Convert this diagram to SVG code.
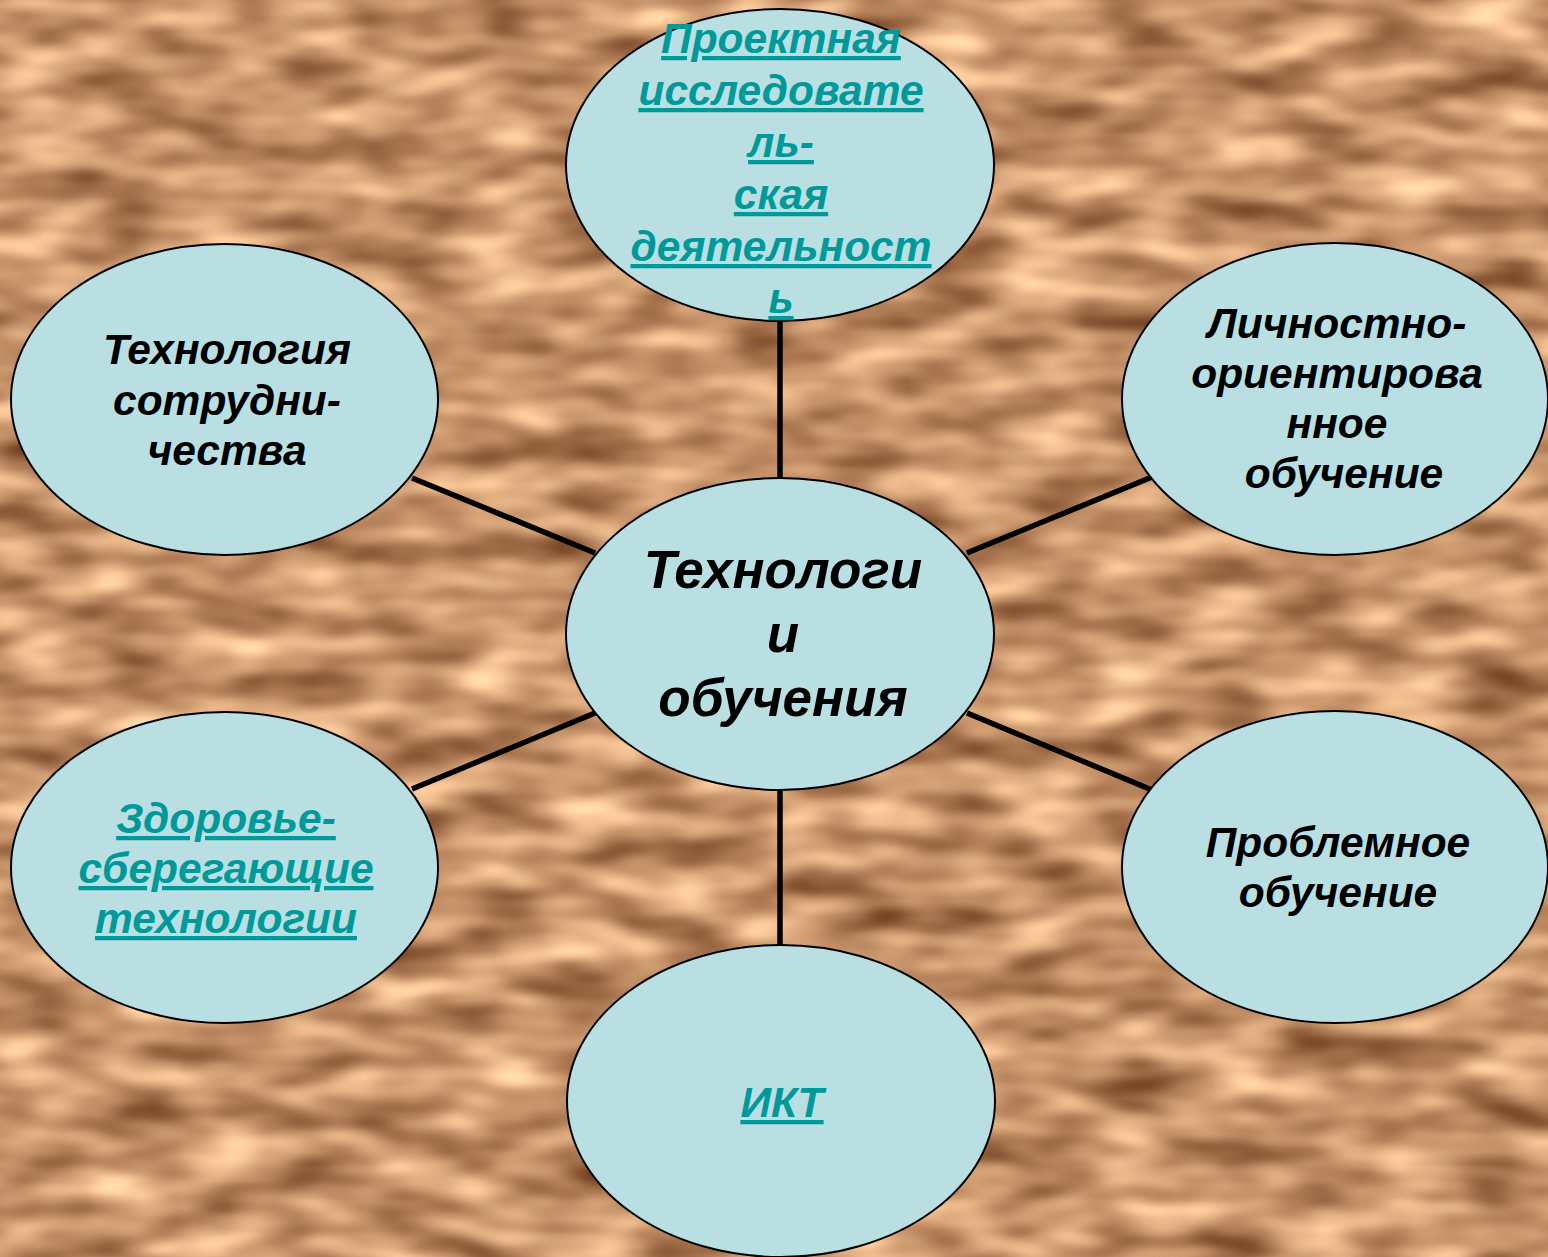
<svg xmlns="http://www.w3.org/2000/svg" width="1548" height="1257" viewBox="0 0 1548 1257">
<defs>
<filter id="tex" x="0" y="0" width="1548" height="1257" filterUnits="userSpaceOnUse" color-interpolation-filters="sRGB">
<feTurbulence type="fractalNoise" baseFrequency="0.011 0.03" numOctaves="2" seed="7" result="n"/>
<feColorMatrix in="n" type="matrix" values="0.85 0 0 0 0.35  0.85 0 0 0 0.15  0.75 0 0 0 0.04  0 0 0 0 1"/>
</filter>
</defs>
<style>
.node ellipse{fill:#b9dfe3;stroke:#000;stroke-width:2}
.t{font-family:"Liberation Sans",Arial,sans-serif;font-weight:bold;font-style:italic;text-anchor:middle;fill:#000}
.link{fill:#009999;text-decoration:underline}
#connectors line{stroke:#000;stroke-width:5.5}
</style>
<rect x="0" y="0" width="1548" height="1257" fill="#c4946a"/>
<rect x="0" y="0" width="1548" height="1257" filter="url(#tex)"/>
<g id="connectors">
<line x1="780" y1="321" x2="780" y2="479"/>
<line x1="412" y1="478" x2="595" y2="553"/>
<line x1="967" y1="553" x2="1152" y2="477"/>
<line x1="412" y1="789" x2="595" y2="713"/>
<line x1="967" y1="713" x2="1152" y2="790"/>
<line x1="780" y1="789" x2="780" y2="946"/>
</g>
<g id="n-top" class="node">
<ellipse cx="780" cy="165" rx="214" ry="156"/>
<text class="t link" font-size="42.5"><tspan x="781" y="53">Проектная</tspan><tspan x="781" y="105">исследовате</tspan><tspan x="781" y="157">ль-</tspan><tspan x="781" y="209">ская</tspan><tspan x="781" y="261">деятельност</tspan><tspan x="781" y="313">ь</tspan></text>
</g>
<g id="n-center" class="node">
<ellipse cx="780" cy="634" rx="214" ry="156"/>
<text class="t" font-size="53"><tspan x="783" y="588">Технологи</tspan><tspan x="783" y="652">и</tspan><tspan x="783" y="716">обучения</tspan></text>
</g>
<g id="n-lefttop" class="node">
<ellipse cx="224.5" cy="399.5" rx="213.5" ry="155.5"/>
<text class="t" font-size="42.5"><tspan x="227" y="364">Технология</tspan><tspan x="227" y="415">сотрудни-</tspan><tspan x="227" y="465">чества</tspan></text>
</g>
<g id="n-righttop" class="node">
<ellipse cx="1335" cy="399" rx="213" ry="156"/>
<text class="t" font-size="42.5"><tspan x="1337" y="338">Личностно-</tspan><tspan x="1337" y="388">ориентирова</tspan><tspan x="1337" y="438">нное</tspan><tspan x="1344" y="488">обучение</tspan></text>
</g>
<g id="n-leftbottom" class="node">
<ellipse cx="224.5" cy="867.5" rx="213.5" ry="155.5"/>
<text class="t link" font-size="42.5"><tspan x="226" y="833">Здоровье-</tspan><tspan x="226" y="883">сберегающие</tspan><tspan x="226" y="933">технологии</tspan></text>
</g>
<g id="n-rightbottom" class="node">
<ellipse cx="1335" cy="867" rx="213" ry="156"/>
<text class="t" font-size="42.5"><tspan x="1338" y="857">Проблемное</tspan><tspan x="1338" y="907">обучение</tspan></text>
</g>
<g id="n-bottom" class="node">
<ellipse cx="781" cy="1101" rx="214" ry="156"/>
<text class="t link" font-size="42.5"><tspan x="782" y="1117">ИКТ</tspan></text>
</g>
</svg>
